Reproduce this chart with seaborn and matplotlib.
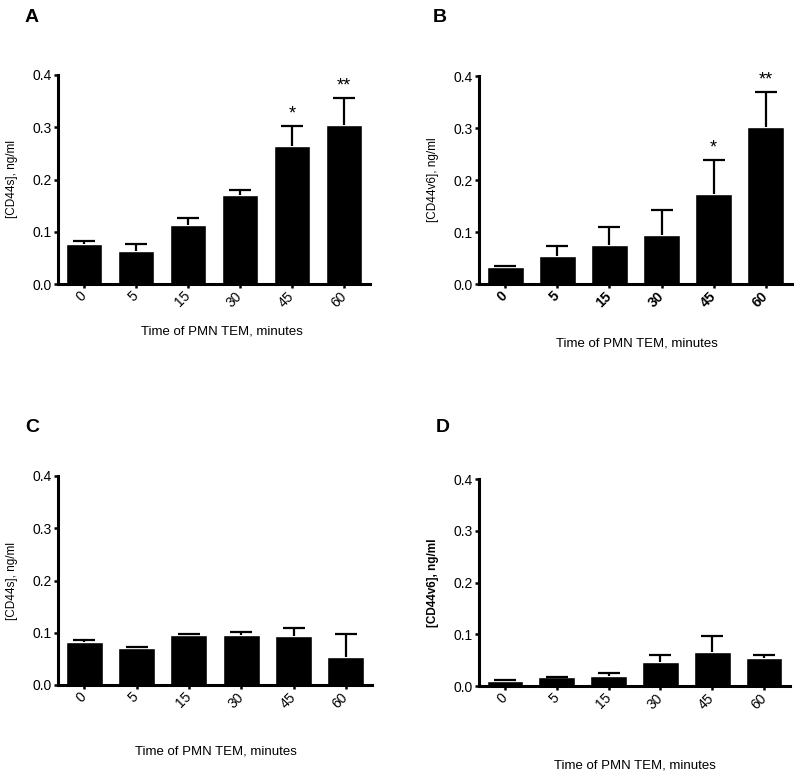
import numpy as np
import pandas as pd
import seaborn as sns
import matplotlib.pyplot as plt

# time points (minutes)
times = ["0", "5", "15", "30", "45", "60"]

# mean and upper error (SEM) for each panel
cd44s_a = [0.077, 0.064, 0.112, 0.170, 0.264, 0.305]
cd44s_a_err = [0.006, 0.012, 0.014, 0.010, 0.039, 0.051]
cd44v6_b = [0.033, 0.054, 0.075, 0.095, 0.173, 0.301]
cd44v6_b_err = [0.002, 0.020, 0.035, 0.047, 0.066, 0.069]
cd44s_c = [0.082, 0.070, 0.095, 0.096, 0.093, 0.054]
cd44s_c_err = [0.005, 0.003, 0.002, 0.005, 0.016, 0.043]
cd44v6_d = [0.010, 0.017, 0.020, 0.046, 0.066, 0.054]
cd44v6_d_err = [0.002, 0.001, 0.006, 0.013, 0.030, 0.005]

stars_ab = ["", "", "", "", "*", "**"]

sns.set_style("ticks")
plt.rcParams["font.family"] = ["Liberation Sans", "DejaVu Sans"]
plt.rcParams["text.color"] = "black"
plt.rcParams["axes.labelcolor"] = "black"
plt.rcParams["xtick.color"] = "black"
plt.rcParams["ytick.color"] = "black"
plt.rcParams["axes.edgecolor"] = "black"

W, H = 800, 779
fig = plt.figure(figsize=(W / 100, H / 100), dpi=100)


def px_axes(left, top, right, bottom):
    return fig.add_axes([left / W, 1 - bottom / H, (right - left) / W, (bottom - top) / H])


panels = [
    dict(box=(58, 75, 370, 284), vals=cd44s_a, err=cd44s_a_err, ylab="[CD44s], ng/ml",
         letter="A", lpos=(32, 17), xlab=(222, 331), stars=stars_ab, bold_ticks=False, bold_ylab=False),
    dict(box=(479, 76, 792, 284), vals=cd44v6_b, err=cd44v6_b_err, ylab="[CD44v6], ng/ml",
         letter="B", lpos=(440, 17), xlab=(637, 343), stars=stars_ab, bold_ticks=True, bold_ylab=False),
    dict(box=(58, 476, 372, 685), vals=cd44s_c, err=cd44s_c_err, ylab="[CD44s], ng/ml",
         letter="C", lpos=(32, 428), xlab=(216, 752), stars=None, bold_ticks=False, bold_ylab=False),
    dict(box=(479, 479, 790, 686), vals=cd44v6_d, err=cd44v6_d_err, ylab="[CD44v6], ng/ml",
         letter="D", lpos=(443, 428), xlab=(635, 766), stars=None, bold_ticks=False, bold_ylab=True),
]

for p in panels:
    ax = px_axes(*p["box"])
    df = pd.DataFrame({"time": times, "conc": p["vals"]})
    sns.barplot(data=df, x="time", y="conc", color="black", width=0.71,
                saturation=1, errorbar=None, ax=ax)
    xs = np.arange(len(times))
    _, caps, _ = ax.errorbar(xs, p["vals"], yerr=[np.zeros(len(times)), p["err"]], fmt="none",
                             ecolor="black", elinewidth=1.6, capsize=8, capthick=1.6)
    caps[0].set_visible(False)  # only upper half of SEM
    if p["stars"]:
        for x, v, e, s in zip(xs, p["vals"], p["err"], p["stars"]):
            if s:
                ax.text(x, v + e + 0.006, s, ha="center", va="bottom", fontsize=13)

    ax.set_xlim(-0.5, 5.5)
    ax.set_ylim(0, 0.4)
    ax.set_yticks([0.0, 0.1, 0.2, 0.3, 0.4])
    ax.set_yticklabels(["0.0", "0.1", "0.2", "0.3", "0.4"])
    sns.despine(ax=ax)
    for s in ("left", "bottom"):
        ax.spines[s].set_linewidth(2.2)
    ax.tick_params(axis="both", width=1.8, length=3, labelsize=10, direction="out", pad=1.5)
    ax.tick_params(axis="x", pad=4)
    tw = "bold" if p["bold_ticks"] else "normal"
    for lbl in ax.get_xticklabels():
        lbl.set_rotation(45)
        lbl.set_rotation_mode("anchor")
        lbl.set_ha("right")
        lbl.set_va("center")
        lbl.set_fontweight(tw)
    ax.set_xlabel("")
    ax.set_ylabel(p["ylab"], fontsize=8.5,
                  fontweight="bold" if p["bold_ylab"] else "normal", labelpad=10)

    fig.text(p["xlab"][0] / W, 1 - p["xlab"][1] / H, "Time of PMN TEM, minutes",
             ha="center", va="center", fontsize=9.5)
    fig.text(p["lpos"][0] / W, 1 - p["lpos"][1] / H, p["letter"], ha="center", va="center",
             fontsize=14, fontweight="bold")

fig.savefig("out.png", dpi=100)
